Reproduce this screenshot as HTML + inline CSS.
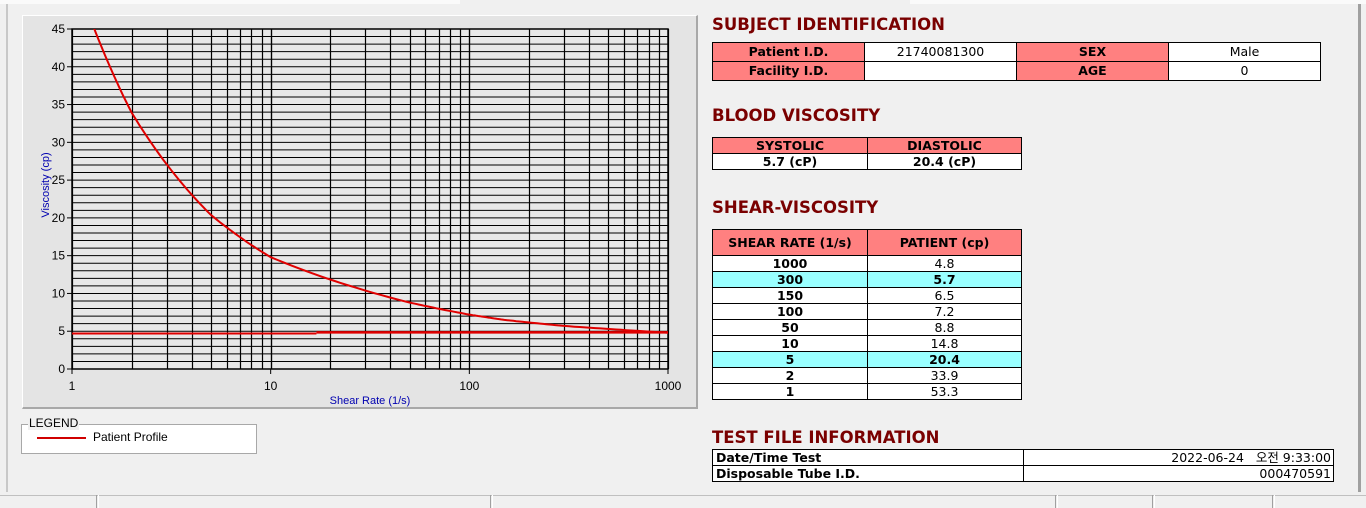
<!DOCTYPE html>
<html><head><meta charset="utf-8"><style>
*{margin:0;padding:0;box-sizing:border-box}
body{width:1366px;height:508px;background:#f0f0f0;position:relative;overflow:hidden;font-family:"Liberation Sans","Noto Sans CJK KR",sans-serif}
.abs{position:absolute}
.t{position:absolute;left:712px;color:#7a0000;font-weight:bold;font-size:16.5px;font-family:"DejaVu Sans","Liberation Sans",sans-serif}
table{position:absolute;border-collapse:collapse;font-size:12.5px;font-family:"DejaVu Sans","Liberation Sans","Noto Sans CJK KR",sans-serif}
td{border:1px solid #000;text-align:center;padding:0;background:#fff;line-height:14px}
td.h{background:#ff8080;font-weight:bold;color:#000}
td.b{font-weight:bold}
tr.c td{background:#99ffff;font-weight:bold}
</style></head><body>
<div class="abs" style="left:0;top:0;width:460px;height:4px;background:#fafafa"></div>
<div class="abs" style="left:910px;top:0;width:456px;height:4px;background:#fafafa"></div>
<div class="abs" style="left:6px;top:4px;width:2px;height:488px;background:#c8c8c8"></div>
<div class="abs" style="left:1358px;top:4px;width:3px;height:488px;background:#a0a0a0"></div>
<div class="abs" style="left:22px;top:15px;width:676px;height:394px;background:#e4e4e4;border-right:2px solid #a8a8a8;border-bottom:2px solid #a8a8a8;border-top:1px solid #fff;border-left:1px solid #fff"></div>
<svg class="abs" style="left:0;top:0" width="700" height="420" id="ch"></svg>
<div class="abs" style="left:21px;top:424px;width:236px;height:30px;background:#fff;border:1px solid #a8a8a8"></div>
<div class="abs" style="left:28px;top:416px;font-size:12px;background:#f0f0f0;padding:0 1px">LEGEND</div>
<div class="abs" style="left:37px;top:437px;width:49px;height:2px;background:#d00000"></div>
<div class="abs" style="left:93px;top:430px;font-size:12px">Patient Profile</div>

<div class="t" style="top:15px">SUBJECT IDENTIFICATION</div>
<table style="left:712px;top:42px;width:609px">
<tr style="height:19px"><td class="h" style="width:152px">Patient I.D.</td><td style="width:152px">21740081300</td><td class="h" style="width:152px">SEX</td><td>Male</td></tr>
<tr style="height:19px"><td class="h">Facility I.D.</td><td></td><td class="h">AGE</td><td>0</td></tr>
</table>
<div class="t" style="top:106px">BLOOD VISCOSITY</div>
<table style="left:712px;top:137px;width:310px">
<tr style="height:16px"><td class="h" style="width:155px">SYSTOLIC</td><td class="h">DIASTOLIC</td></tr>
<tr style="height:16px"><td class="b">5.7 (cP)</td><td class="b">20.4 (cP)</td></tr>
</table>
<div class="t" style="top:198px">SHEAR-VISCOSITY</div>
<table style="left:712px;top:229px;width:310px">
<tr style="height:26px"><td class="h" style="width:155px">SHEAR RATE (1/s)</td><td class="h">PATIENT (cp)</td></tr>
<tr style="height:16px"><td class="b">1000</td><td>4.8</td></tr>
<tr style="height:16px" class="c"><td>300</td><td>5.7</td></tr>
<tr style="height:16px"><td class="b">150</td><td>6.5</td></tr>
<tr style="height:16px"><td class="b">100</td><td>7.2</td></tr>
<tr style="height:16px"><td class="b">50</td><td>8.8</td></tr>
<tr style="height:16px"><td class="b">10</td><td>14.8</td></tr>
<tr style="height:16px" class="c"><td>5</td><td>20.4</td></tr>
<tr style="height:16px"><td class="b">2</td><td>33.9</td></tr>
<tr style="height:16px"><td class="b">1</td><td>53.3</td></tr>
</table>
<div class="t" style="top:428px">TEST FILE INFORMATION</div>
<table style="left:712px;top:449px;width:622px">
<tr style="height:16px"><td class="b" style="width:311px;text-align:left;padding-left:3px">Date/Time Test</td><td style="text-align:right;padding-right:2px">2022-06-24&nbsp;&nbsp; 오전 9:33:00</td></tr>
<tr style="height:16px"><td class="b" style="text-align:left;padding-left:3px">Disposable Tube I.D.</td><td style="text-align:right;padding-right:2px">000470591</td></tr>
</table>
<div class="abs" style="left:0;top:495px;width:1366px;height:13px;background:#f0f0f0;border-top:1px solid #c0c0c0"></div>
<div class="abs" style="left:96px;top:495px;width:3px;height:13px;border-left:1px solid #a0a0a0;border-right:1px solid #fff"></div>
<div class="abs" style="left:490px;top:495px;width:3px;height:13px;border-left:1px solid #a0a0a0;border-right:1px solid #fff"></div>
<div class="abs" style="left:1055px;top:495px;width:3px;height:13px;border-left:1px solid #a0a0a0;border-right:1px solid #fff"></div>
<div class="abs" style="left:1152px;top:495px;width:3px;height:13px;border-left:1px solid #a0a0a0;border-right:1px solid #fff"></div>
<div class="abs" style="left:1272px;top:495px;width:3px;height:13px;border-left:1px solid #a0a0a0;border-right:1px solid #fff"></div>
<script>
var s=document.getElementById('ch'),h='';
var X0=72,X1=668,Y0=369,Y1=29,dw=(X1-X0)/3,py=(Y0-Y1)/45;
function fx(v){return X0+Math.log10(v)*dw}
function fy(v){return Y0-v*py}
h+='<rect x="'+X0+'" y="'+Y1+'" width="'+(X1-X0)+'" height="'+(Y0-Y1)+'" fill="#e8e8e8"/>';
for(var i=0;i<=45;i++){var y=fy(i);h+='<line x1="'+X0+'" x2="'+X1+'" y1="'+y+'" y2="'+y+'" stroke="#000" stroke-width="1"/>';}
for(var d=0;d<3;d++)for(var k=1;k<=10;k++){var x=Math.round(fx(k*Math.pow(10,d)))+0.5;h+='<line x1="'+x+'" x2="'+x+'" y1="'+Y1+'" y2="'+Y0+'" stroke="#000" stroke-width="1.2"/>';}
h+='<rect x="'+X0+'" y="'+Y1+'" width="'+(X1-X0)+'" height="'+(Y0-Y1)+'" fill="none" stroke="#000" stroke-width="1.5"/>';
for(var i=0;i<=45;i+=5){var y=fy(i);h+='<line x1="'+(X0-5)+'" x2="'+X0+'" y1="'+y+'" y2="'+y+'" stroke="#000"/><text x="'+(X0-7)+'" y="'+(y+4)+'" font-size="12" text-anchor="end" font-family="Liberation Sans">'+i+'</text>';}
[1,10,100,1000].forEach(function(v){var x=fx(v);h+='<line x1="'+x+'" x2="'+x+'" y1="'+Y0+'" y2="'+(Y0+5)+'" stroke="#000"/><text x="'+x+'" y="'+(Y0+21)+'" font-size="12" text-anchor="middle" font-family="Liberation Sans">'+v+'</text>';});
h+='<text x="370" y="404" font-size="11" fill="#0000b0" text-anchor="middle" font-family="Liberation Sans">Shear Rate (1/s)</text>';
h+='<text transform="translate(49,185) rotate(-90)" font-size="11" fill="#0000b0" text-anchor="middle" font-family="Liberation Sans">Viscosity (cp)</text>';
var P=[[1,53.3],[2,33.9],[5,20.4],[10,14.8],[50,8.8],[100,7.2],[150,6.5],[300,5.7],[1000,4.8]];
var pts=[];
for(var j=0;j<P.length-1;j++){var a=P[j],b=P[j+1];for(var t=0;t<1;t+=0.05){var lx=Math.log10(a[0])+t*(Math.log10(b[0])-Math.log10(a[0]));var ly=Math.log10(a[1])+t*(Math.log10(b[1])-Math.log10(a[1]));pts.push([fx(Math.pow(10,lx)),fy(Math.pow(10,ly))]);}}
pts.push([fx(1000),fy(4.8)]);
h+='<defs><clipPath id="c"><rect x="'+X0+'" y="'+Y1+'" width="'+(X1-X0)+'" height="'+(Y0-Y1)+'"/></clipPath></defs>';
h+='<polyline clip-path="url(#c)" fill="none" stroke="#e00000" stroke-width="2" points="'+pts.map(function(p){return p[0].toFixed(1)+','+p[1].toFixed(1)}).join(' ')+'"/>';
h+='<line x1="'+X0+'" x2="'+fx(17)+'" y1="'+fy(4.7)+'" y2="'+fy(4.7)+'" stroke="#e00000" stroke-width="2"/>';
h+='<line x1="'+fx(17)+'" x2="'+X1+'" y1="'+fy(4.85)+'" y2="'+fy(4.85)+'" stroke="#e00000" stroke-width="2.5"/>';
s.innerHTML=h;
</script>
</body></html>
